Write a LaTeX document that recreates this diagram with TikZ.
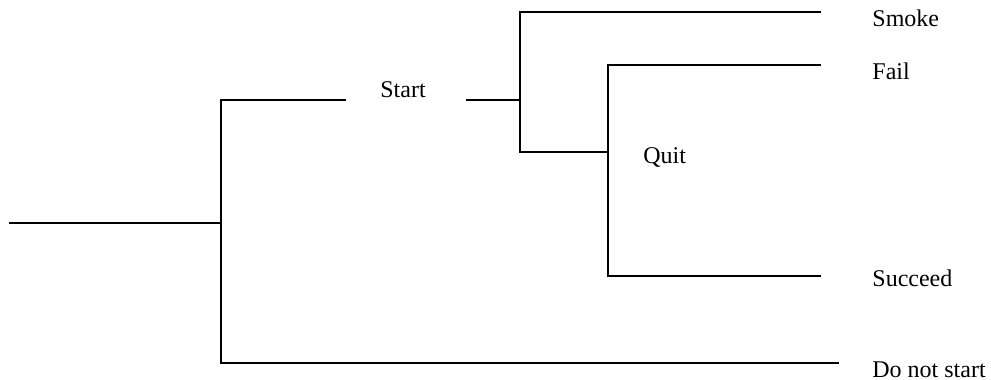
\documentclass[tikz,border=0pt]{standalone}
\usepackage{fontspec}
\setmainfont{Liberation Serif}
\begin{document}
\begin{tikzpicture}[x=0.5pt,y=-0.5pt,
  branch/.style={line width=0.65pt, line cap=rect},
  lbl/.style={anchor=base west, inner sep=0pt, font=\fontsize{12}{14}\selectfont}]
\useasboundingbox (0,0) rectangle (991,380);

% junctions and branch ends
\coordinate (root) at (10,223);
\coordinate (j1) at (221,223);
\coordinate (j1top) at (221,100);
\coordinate (j1bot) at (221,363);
\coordinate (s1) at (345,100);
\coordinate (s2) at (467,100);
\coordinate (j2) at (520,100);
\coordinate (j2top) at (520,12);
\coordinate (j2bot) at (520,152);
\coordinate (j3) at (608,152);
\coordinate (j3top) at (608,65);
\coordinate (j3bot) at (608,276);
\coordinate (eSmoke) at (820,12);
\coordinate (eFail) at (820,65);
\coordinate (eSucc) at (820,276);
\coordinate (eNot) at (838,363);

% labels
\node[lbl] (start) at (380,97) {Start};
\node[lbl] (quit) at (643,163) {Quit};
\node[lbl] (smoke) at (872,26) {Smoke};
\node[lbl] (fail) at (872,79) {Fail};
\node[lbl] (succeed) at (872,286) {Succeed};
\node[lbl] (notstart) at (872,377) {Do not start};

% tree
\draw[branch] (root) -- (j1);
\draw[branch] (s1) -- (j1top) -- (j1bot) -- (eNot);
\draw[branch] (s2) -- (j2);
\draw[branch] (eSmoke) -- (j2top) -- (j2bot) -- (j3);
\draw[branch] (eFail) -- (j3top) -- (j3bot) -- (eSucc);
\end{tikzpicture}
\end{document}
